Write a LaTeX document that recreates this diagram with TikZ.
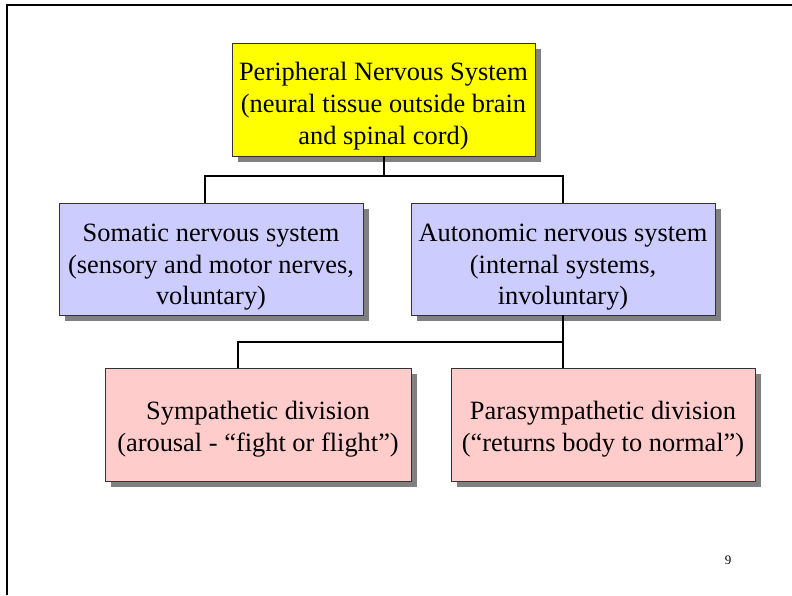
\documentclass[tikz,border=0pt]{standalone}
\usepackage{fontspec}
\setmainfont{Liberation Serif}
\usepackage{xcolor}
\usetikzlibrary{shadows}
\definecolor{pnsyellow}{HTML}{FFFF00}
\definecolor{divblue}{HTML}{CCCCFF}
\definecolor{subpink}{HTML}{FFCCCC}
\newcommand{\dropline}[1]{\rule{0pt}{#1}}

\begin{document}
\begin{tikzpicture}[x=1pt, y=-1pt,
  box/.style={rectangle, draw=black!80, line width=0.8pt, inner sep=0pt, align=center,
    font=\fontsize{26.4}{31.8}\selectfont,
    copy shadow={shadow xshift=6pt, shadow yshift=-6pt, fill=black!50, draw=none}},
  conn/.style={line width=2pt, black}]
  \useasboundingbox (0,0) rectangle (792,595);
  \draw[line width=2.5pt] (7,595) -- (7,5) -- (792,5);

  \node[box, fill=pnsyellow, minimum width=303, minimum height=113](pns) at (383.5,99.5)
    {\dropline{32pt}Peripheral Nervous System\\(neural tissue outside brain\\and spinal cord)};
  \node[box, fill=divblue, minimum width=304, minimum height=112](som) at (211,259)
    {\dropline{34pt}Somatic nervous system\\(sensory and motor nerves,\\voluntary)};
  \node[box, fill=divblue, minimum width=304, minimum height=112](ans) at (563,259)
    {\dropline{34pt}Autonomic nervous system\\(internal systems,\\involuntary)};
  \node[box, fill=subpink, minimum width=306, minimum height=113](symp) at (258,424.5)
    {\dropline{27pt}Sympathetic division\\(arousal - “fight or flight”)};
  \node[box, fill=subpink, minimum width=304, minimum height=113](para) at (603,424.5)
    {\dropline{27pt}Parasympathetic division\\(“returns body to normal”)};

  \draw[conn] (pns.south) -- ++(0,20) -| ([xshift=-6pt]som.north);
  \draw[conn] (pns.south) -- ++(0,20) -| (ans.north);
  \draw[conn] (ans.south) -- (ans.south |- para.north);
  \draw[conn] (ans.south) -- ++(0,27) -| ([xshift=-20pt]symp.north);

  \node[font=\fontsize{13}{15}\selectfont](pagenum) at (728,560) {9};
\end{tikzpicture}
\end{document}
